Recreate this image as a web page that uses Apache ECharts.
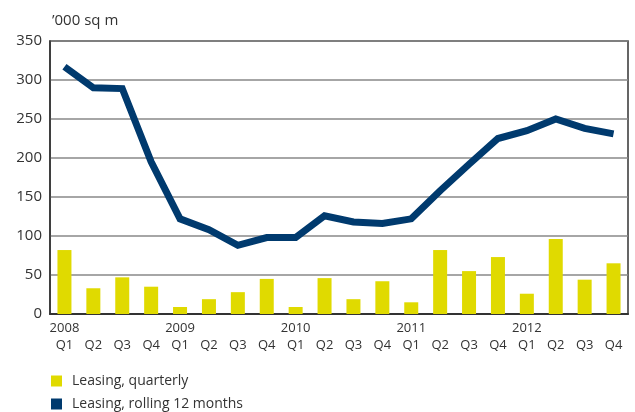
<!DOCTYPE html>
<html>
<head>
<meta charset="utf-8">
<script src="https://cdn.jsdelivr.net/npm/echarts@6/dist/echarts.min.js"></script>
<style>
  html, body { margin: 0; padding: 0; background: #fff; }
  #chart { width: 635px; height: 412px; }
</style>
</head>
<body>
<div id="chart"></div>
<script>
// Quarter labels: year shown on the first quarter of each year
const years = ['2008', '2009', '2010', '2011', '2012'];
const quarters = ['Q1', 'Q2', 'Q3', 'Q4'];

// Leasing volume per quarter, '000 sq m
const leasingQuarterly = [82, 33, 47, 35, 9, 19, 28, 45, 9, 46, 19, 42, 15, 82, 55, 73, 26, 96, 44, 65];

// Leasing, rolling 12 months, '000 sq m
const leasingRolling = [317, 290, 289, 195, 122, 108, 88, 98, 98, 126, 118, 116, 122, 158, 192, 225, 235, 250, 238, 231];

const yTicks = { min: 0, max: 350, step: 50 };

const categories = [];
years.forEach(y => quarters.forEach((q, i) => {
  categories.push(i === 0 ? y + '\n' + q : '\n' + q);
}));

const font = '"Open Sans", "DejaVu Sans", sans-serif';
const chart = echarts.init(document.getElementById('chart'));

// one legend per row so the two entries stack
const legendRow = (name, top) => ({
  orient: 'vertical',
  left: 51,
  top: top,
  padding: 0,
  itemWidth: 11,
  itemHeight: 11,
  itemGap: 0,
  textStyle: { fontFamily: font, fontSize: 14, color: '#333', padding: [0, 0, 0, 5] },
  data: [{ name: name, icon: 'rect' }]
});

chart.setOption({
  animation: false,
  textStyle: { fontFamily: font },
  title: {
    text: '\u2019000 sq m',
    left: 47,
    top: 8,
    textStyle: { fontFamily: font, fontSize: 15, fontWeight: 'normal', color: '#333' }
  },
  grid: {
    left: 50, right: 7, top: 41, bottom: 98,
    show: true, borderColor: '#333', borderWidth: 1.5
  },
  legend: [
    legendRow('Leasing, quarterly', 374),
    legendRow('Leasing, rolling 12 months', 397)
  ],
  xAxis: {
    type: 'category',
    data: categories,
    boundaryGap: true,
    axisLine: { lineStyle: { color: '#333', width: 2 } },
    axisTick: { show: false },
    axisLabel: {
      interval: 0, color: '#333', fontSize: 13, lineHeight: 17, margin: 6
    }
  },
  yAxis: {
    type: 'value',
    min: yTicks.min,
    max: yTicks.max,
    interval: yTicks.step,
    axisLine: { show: true, lineStyle: { color: '#333', width: 1.5 } },
    axisTick: { show: false },
    axisLabel: { color: '#333', fontSize: 15, margin: 8 },
    splitLine: { lineStyle: { color: '#888', width: 1.5 } }
  },
  series: [
    {
      name: 'Leasing, quarterly',
      type: 'bar',
      data: leasingQuarterly,
      barWidth: 14,
      itemStyle: { color: '#e0da00' }
    },
    {
      name: 'Leasing, rolling 12 months',
      type: 'line',
      data: leasingRolling,
      symbol: 'none',
      lineStyle: { color: '#003a6e', width: 7, join: 'miter' },
      itemStyle: { color: '#003a6e' }
    }
  ]
});
</script>
</body>
</html>
